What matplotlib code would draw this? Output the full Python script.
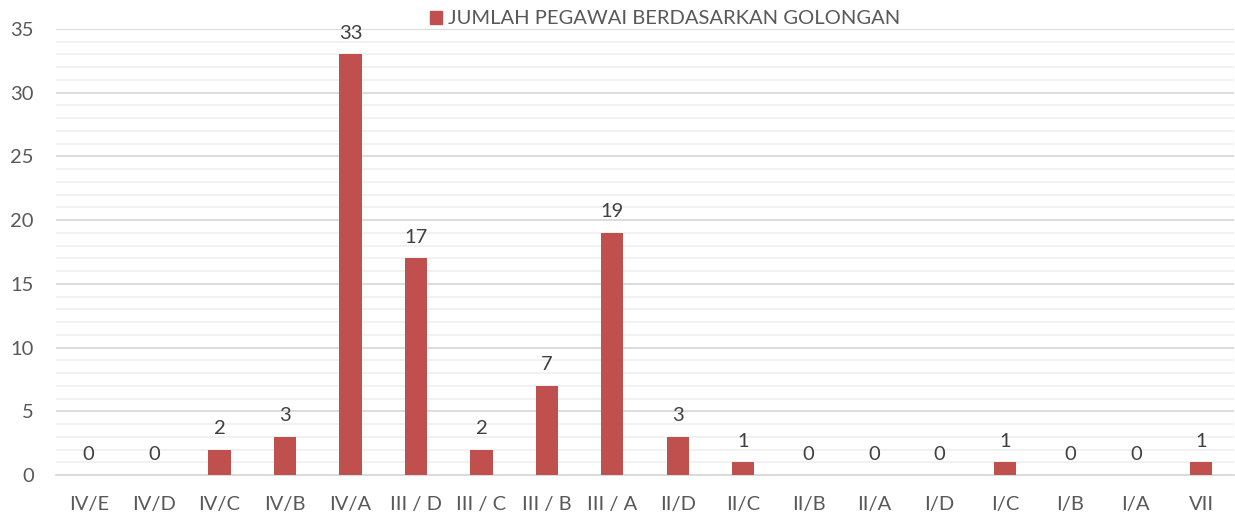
import matplotlib
matplotlib.use("Agg")
import matplotlib.pyplot as plt
from matplotlib.ticker import MultipleLocator
from matplotlib.patches import Patch

categories = ["IV/E", "IV/D", "IV/C", "IV/B", "IV/A", "III / D", "III / C", "III / B", "III / A",
              "II/D", "II/C", "II/B", "II/A", "I/D", "I/C", "I/B", "I/A", "VII"]
values = [0, 0, 2, 3, 33, 17, 2, 7, 19, 3, 1, 0, 0, 0, 1, 0, 0, 1]
series_name = "JUMLAH PEGAWAI BERDASARKAN GOLONGAN"

plt.rcParams['font.family'] = ['Lato', 'DejaVu Sans']
bar_color = "#C0504D"
text_color = "#595959"
fs = 14.5

fig = plt.figure(figsize=(12.35, 5.23), dpi=100)
ax = fig.add_axes([56/1235, 1 - 475/523, (1234-56)/1235, (475-29)/523])

x = list(range(len(categories)))
ax.bar(x, values, width=0.34, color=bar_color, zorder=3)
for xi, v in zip(x, values):
    ax.annotate(str(v), (xi, v), xytext=(0, 9), textcoords="offset points",
                ha="center", va="bottom", fontsize=fs, color="#404040")

ax.set_xlim(-0.5, len(categories) - 0.5)
ax.set_ylim(0, 35)
ax.yaxis.set_major_locator(MultipleLocator(5))
ax.yaxis.set_minor_locator(MultipleLocator(1))
ax.grid(which="major", axis="y", color="#D9D9D9", linewidth=1.3, zorder=0)
ax.grid(which="minor", axis="y", color="#F0F0F0", linewidth=1.3, zorder=0)
ax.set_xticks(x)
ax.set_xticklabels(categories)
ax.tick_params(axis="both", which="both", length=0, labelsize=fs, labelcolor=text_color)
ax.tick_params(axis="x", pad=15)
ax.tick_params(axis="y", pad=16)
for s in ["top", "right", "left"]:
    ax.spines[s].set_visible(False)
ax.spines["bottom"].set_color("#D9D9D9")
ax.spines["bottom"].set_linewidth(1.3)
ax.set_axisbelow(True)

leg = fig.legend(handles=[Patch(color=bar_color, label=series_name)],
                 loc="center", bbox_to_anchor=(665/1235, 1 - 19/523), frameon=False,
                 fontsize=fs, handlelength=0.6, handleheight=0.6, handletextpad=0.3)
for t in leg.get_texts():
    t.set_color(text_color)

fig.savefig("out.png", dpi=100)
